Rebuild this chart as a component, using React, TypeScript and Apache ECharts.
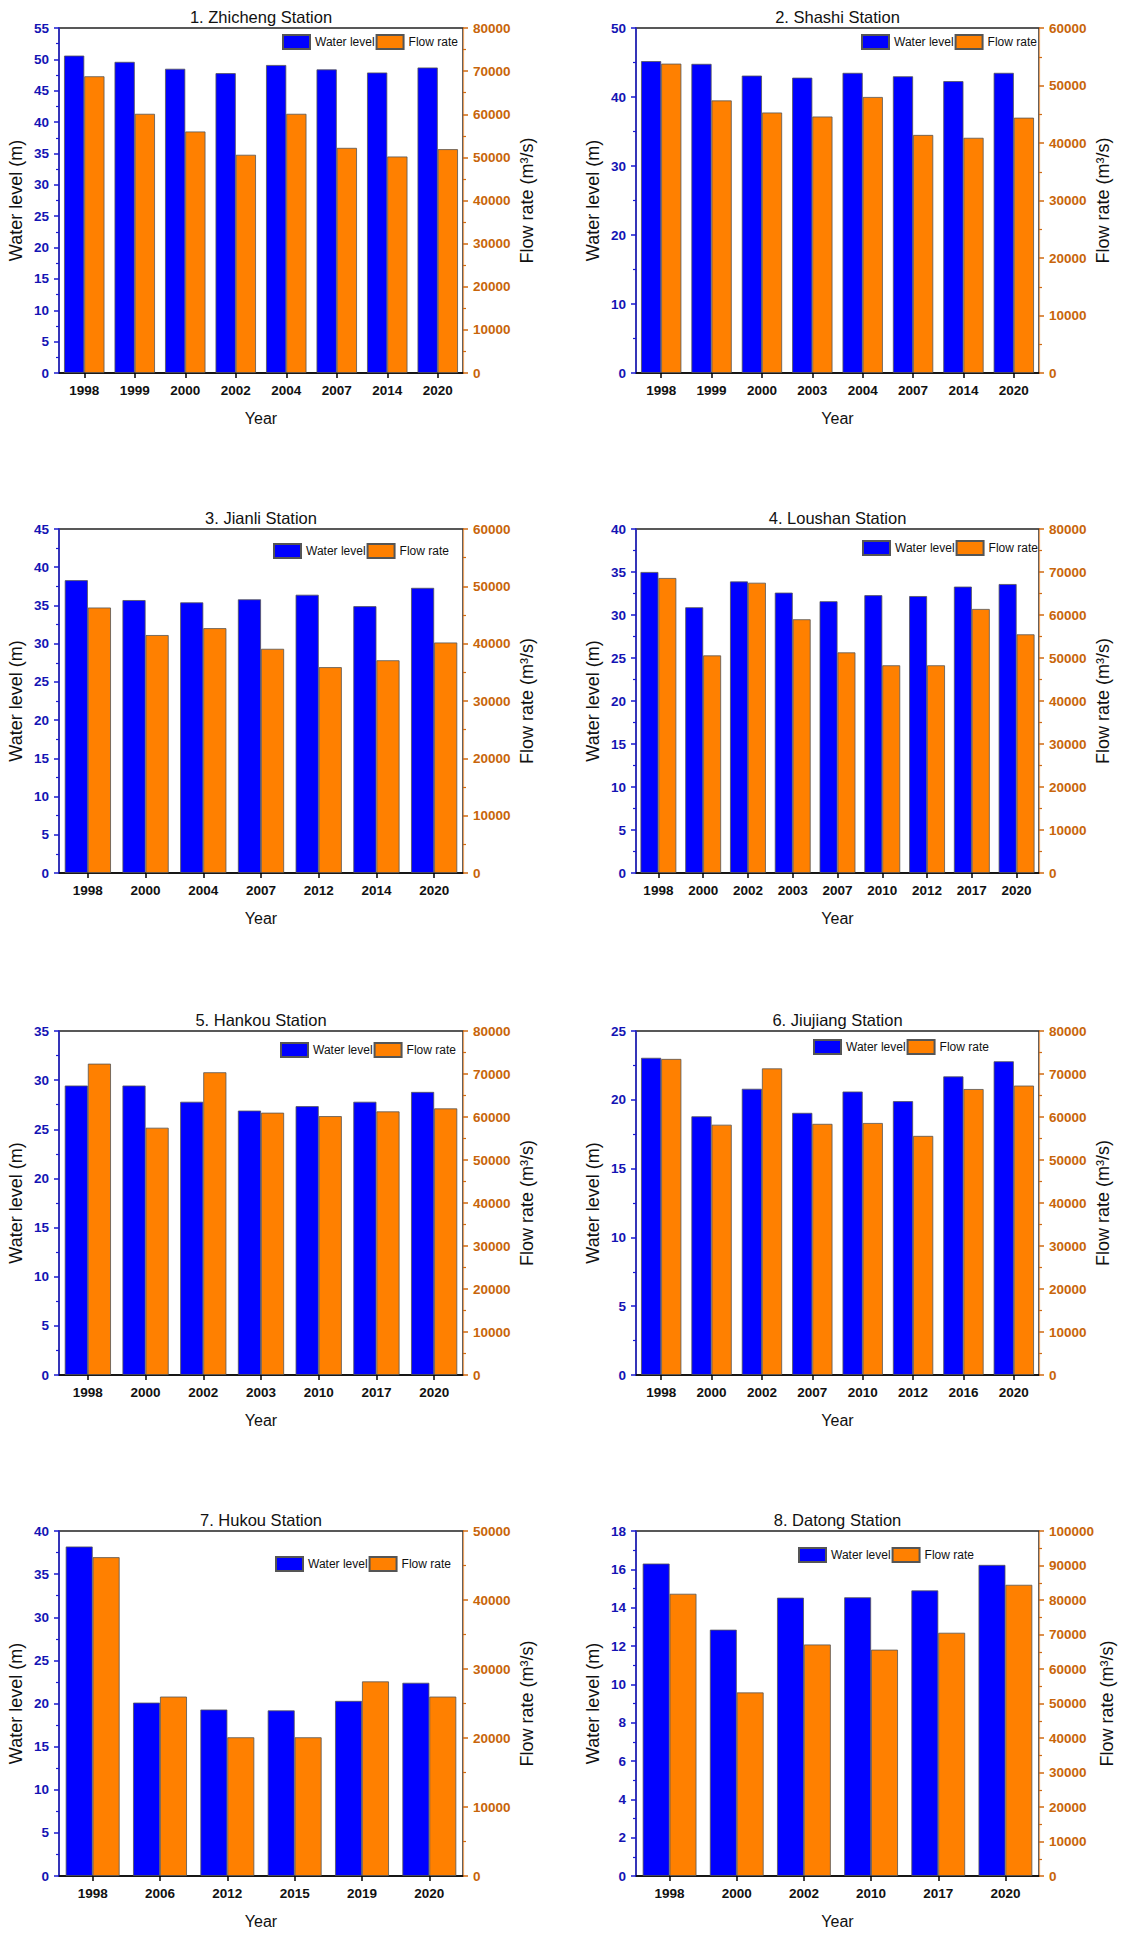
import React, { useEffect, useRef } from "react";
import * as echarts from "echarts";

// ---- Data ----
const titles = [
  "1. Zhicheng Station",
  "2. Shashi Station",
  "3. Jianli Station",
  "4. Loushan Station",
  "5. Hankou Station",
  "6. Jiujiang Station",
  "7. Hukou Station",
  "8. Datong Station",
];

const p1Years = ["1998", "1999", "2000", "2002", "2004", "2007", "2014", "2020"];
const p1Level = [50.6, 49.6, 48.5, 47.8, 49.1, 48.4, 47.9, 48.7];
const p1Flow = [68800, 60100, 56000, 50600, 60100, 52200, 50200, 51900];

const p2Years = ["1998", "1999", "2000", "2003", "2004", "2007", "2014", "2020"];
const p2Level = [45.2, 44.8, 43.1, 42.8, 43.5, 43.0, 42.3, 43.5];
const p2Flow = [53800, 47400, 45300, 44600, 48000, 41400, 40900, 44400];

const p3Years = ["1998", "2000", "2004", "2007", "2012", "2014", "2020"];
const p3Level = [38.3, 35.7, 35.4, 35.8, 36.4, 34.9, 37.3];
const p3Flow = [46300, 41500, 42700, 39100, 35900, 37100, 40200];

const p4Years = ["1998", "2000", "2002", "2003", "2007", "2010", "2012", "2017", "2020"];
const p4Level = [35.0, 30.9, 33.9, 32.6, 31.6, 32.3, 32.2, 33.3, 33.6];
const p4Flow = [68600, 50600, 67500, 59000, 51300, 48300, 48300, 61400, 55500];

const p5Years = ["1998", "2000", "2002", "2003", "2010", "2017", "2020"];
const p5Level = [29.45, 29.45, 27.8, 26.9, 27.35, 27.8, 28.8];
const p5Flow = [72400, 57500, 70400, 61000, 60200, 61300, 62000];

const p6Years = ["1998", "2000", "2002", "2007", "2010", "2012", "2016", "2020"];
const p6Level = [23.05, 18.8, 20.8, 19.05, 20.6, 19.9, 21.7, 22.8];
const p6Flow = [73500, 58200, 71300, 58400, 58600, 55600, 66500, 67300];

const p7Years = ["1998", "2006", "2012", "2015", "2019", "2020"];
const p7Level = [38.2, 20.1, 19.3, 19.2, 20.3, 22.4];
const p7Flow = [46200, 26000, 20100, 20100, 28200, 26000];

const p8Years = ["1998", "2000", "2002", "2010", "2017", "2020"];
const p8Level = [16.3, 12.85, 14.52, 14.54, 14.9, 16.23];
const p8Flow = [81800, 53200, 67100, 65600, 70500, 84400];

// axis ranges: [max, interval]
const levelAxes = [
  [55, 5],
  [50, 10],
  [45, 5],
  [40, 5],
  [35, 5],
  [25, 5],
  [40, 5],
  [18, 2],
];
const flowAxes = [
  [80000, 10000],
  [60000, 10000],
  [60000, 10000],
  [80000, 10000],
  [80000, 10000],
  [80000, 10000],
  [50000, 10000],
  [100000, 10000],
];

const yearsList = [p1Years, p2Years, p3Years, p4Years, p5Years, p6Years, p7Years, p8Years];
const levelList = [p1Level, p2Level, p3Level, p4Level, p5Level, p6Level, p7Level, p8Level];
const flowList = [p1Flow, p2Flow, p3Flow, p4Flow, p5Flow, p6Flow, p7Flow, p8Flow];

// ---- Layout ----
const colLeft = [59, 636];
const colWidth = [404, 403];
const rowTop = [28, 529, 1031, 1531];
const rowHeight = [345, 344, 344, 345];
const legendPos = [
  [282, 34],
  [861, 34],
  [273, 543],
  [862, 540],
  [280, 1042],
  [813, 1039],
  [275, 1556],
  [798, 1547],
];

const FONT = "Liberation Sans, Arial, sans-serif";
const BLUE = "#0000ff";
const ORANGE = "#ff8000";
const LEFT_LABEL = "#1414b4";
const RIGHT_LABEL = "#c8650a";

export default function App() {
  const ref = useRef<HTMLDivElement>(null);

  useEffect(() => {
    if (!ref.current) return;
    const chart = echarts.init(ref.current, undefined, { renderer: "svg" });

    const grid: any[] = [];
    const xAxis: any[] = [];
    const yAxis: any[] = [];
    const series: any[] = [];
    const legend: any[] = [];
    const graphic: any[] = [];

    for (let i = 0; i < 8; i++) {
      const col = i % 2;
      const row = Math.floor(i / 2);
      const left = colLeft[col];
      const top = rowTop[row];
      const width = colWidth[col];
      const height = rowHeight[row];

      grid.push({
        left,
        top,
        width,
        height,
        show: true,
        borderColor: "#222",
        borderWidth: 1.5,
        backgroundColor: "transparent",
        containLabel: false,
      });

      xAxis.push({
        type: "category",
        gridIndex: i,
        data: yearsList[i],
        axisLine: { show: true, onZero: false, lineStyle: { color: "#000", width: 1.5 } },
        axisTick: { show: true, alignWithLabel: true, length: 5, lineStyle: { color: "#000", width: 1.5 } },
        axisLabel: {
          color: "#111",
          fontFamily: FONT,
          fontWeight: "bold",
          fontSize: 13.5,
          margin: 10,
        },
        name: "Year",
        nameLocation: "middle",
        nameGap: 37,
        nameTextStyle: { color: "#111", fontFamily: FONT, fontSize: 16 },
        splitLine: { show: false },
      });

      yAxis.push({
        type: "value",
        gridIndex: i,
        position: "left",
        min: 0,
        max: levelAxes[i][0],
        interval: levelAxes[i][1],
        axisLine: { show: true, onZero: false, lineStyle: { color: "#2a2ad8", width: 1.5 } },
        axisTick: { show: true, length: 5, lineStyle: { color: "#1a1ad0", width: 1.5 } },
        minorTick: { show: true, splitNumber: 2, length: 3, lineStyle: { color: "#1a1ad0", width: 1.2 } },
        axisLabel: {
          color: LEFT_LABEL,
          fontFamily: FONT,
          fontWeight: "bold",
          fontSize: 13.5,
          margin: 10,
          formatter: (v: number) => String(v),
        },
        splitLine: { show: false },
        name: "Water level (m)",
        nameLocation: "middle",
        nameRotate: 90,
        nameGap: 34,
        nameTextStyle: { color: "#111", fontFamily: FONT, fontSize: 18 },
      });

      yAxis.push({
        type: "value",
        gridIndex: i,
        position: "right",
        min: 0,
        max: flowAxes[i][0],
        interval: flowAxes[i][1],
        axisLine: { show: true, onZero: false, lineStyle: { color: "#e8a060", width: 1.2 } },
        axisTick: { show: true, length: 5, lineStyle: { color: "#d06a10", width: 1.5 } },
        minorTick: { show: true, splitNumber: 2, length: 3, lineStyle: { color: "#d06a10", width: 1.2 } },
        axisLabel: {
          color: RIGHT_LABEL,
          fontFamily: FONT,
          fontWeight: "bold",
          fontSize: 13.5,
          margin: 10,
          formatter: (v: number) => String(v),
        },
        splitLine: { show: false },
        name: "Flow rate (m³/s)",
        nameLocation: "middle",
        nameRotate: 90,
        nameGap: 55,
        nameTextStyle: { color: "#111", fontFamily: FONT, fontSize: 18 },
      });

      series.push({
        type: "bar",
        name: "Water level",
        xAxisIndex: i,
        yAxisIndex: 2 * i,
        data: levelList[i],
        barGap: "0%",
        barCategoryGap: "20%",
        itemStyle: { color: BLUE, borderColor: "#555", borderWidth: 0.8 },
        emphasis: { disabled: true },
      });
      series.push({
        type: "bar",
        name: "Flow rate",
        xAxisIndex: i,
        yAxisIndex: 2 * i + 1,
        data: flowList[i],
        barGap: "0%",
        barCategoryGap: "20%",
        itemStyle: { color: ORANGE, borderColor: "#555", borderWidth: 0.8 },
        emphasis: { disabled: true },
      });

      legend.push({
        left: legendPos[i][0],
        top: legendPos[i][1],
        orient: "horizontal",
        padding: 0,
        itemGap: 1,
        itemWidth: 27,
        itemHeight: 14,
        icon: "rect",
        selectedMode: false,
        data: ["Water level", "Flow rate"],
        textStyle: { color: "#111", fontFamily: FONT, fontSize: 12 },
      });

      graphic.push({
        type: "text",
        x: left + width / 2,
        y: top - 11,
        style: {
          text: titles[i],
          fill: "#111",
          font: `16.5px ${FONT}`,
          align: "center",
          verticalAlign: "middle",
        },
      });
    }

    chart.setOption({
      animation: false,
      backgroundColor: "#ffffff",
      grid,
      xAxis,
      yAxis,
      series,
      legend,
      graphic,
    });

    return () => chart.dispose();
  }, []);

  return (
    <div
      ref={ref}
      style={{ position: "absolute", left: 0, top: 0, width: 1128, height: 1937 }}
    />
  );
}
